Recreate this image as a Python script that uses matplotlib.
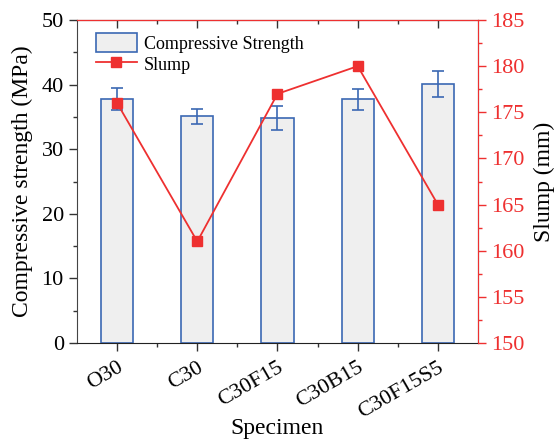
import matplotlib
matplotlib.use("Agg")
import matplotlib.pyplot as plt
from matplotlib.ticker import MultipleLocator
import numpy as np

specimens = ["O30", "C30", "C30F15", "C30B15", "C30F15S5"]
strength = [37.7, 35.1, 34.8, 37.7, 40.1]
strength_err = [1.7, 1.2, 1.85, 1.65, 1.95]
slump = [176, 161, 177, 180, 165]

plt.rcParams['font.family'] = ['Liberation Serif', 'DejaVu Serif']
plt.rcParams['mathtext.fontset'] = 'stix'

blue = '#3b68b3'
red = '#ee3030'

fig = plt.figure(figsize=(5.54, 4.41), dpi=100)
ax = fig.add_axes([0.139, 0.2222, 0.7238, 0.7324])
x = np.arange(len(specimens))
bars = ax.bar(x, strength, width=0.4, color='#efefef', edgecolor=blue, linewidth=1.2,
              yerr=strength_err, error_kw=dict(ecolor=blue, elinewidth=1.2, capsize=4, capthick=1.2),
              label='Compressive Strength', zorder=2)
ax.set_xlim(-0.5, 4.5)
ax.set_ylim(0, 50)
ax.set_xticks(x)
ax.set_xticklabels(specimens, rotation=30, fontsize=16, ha='right', va='top',
                   rotation_mode='anchor')
ax.set_xticks(x[:-1] + 0.5, minor=True)
ax.yaxis.set_major_locator(MultipleLocator(10))
ax.yaxis.set_minor_locator(MultipleLocator(5))
ax.tick_params(axis='y', labelsize=16, direction='out', length=6, width=1, color='#333333')
ax.tick_params(axis='y', which='minor', direction='out', length=3, width=1, color='#333333')
ax.tick_params(axis='x', which='both', direction='out', width=1, color='#333333')
ax.tick_params(axis='x', which='major', length=6, pad=5)
ax.tick_params(axis='x', which='minor', length=3)
ax.set_xlabel('Specimen', fontsize=17, labelpad=-3)
ax.set_ylabel('Compressive strength (MPa)', fontsize=17, labelpad=6)
ax.spines['left'].set_color('#444444')
ax.spines['bottom'].set_color('#222222')

top = ax.secondary_xaxis('top')
top.set_xticks(x)
top.set_xticks(x[:-1] + 0.5, minor=True)
top.tick_params(axis='x', which='both', direction='in', labeltop=False, width=1, color='#333333')
top.tick_params(axis='x', which='major', length=6)
top.tick_params(axis='x', which='minor', length=3)
top.spines['top'].set_color(red)

ax2 = ax.twinx()
line, = ax2.plot(x, slump, color=red, marker='s', markersize=7, linewidth=1.3, label='Slump', zorder=3)
ax2.set_ylim(150, 185)
ax2.yaxis.set_major_locator(MultipleLocator(5))
ax2.yaxis.set_minor_locator(MultipleLocator(2.5))
ax2.tick_params(axis='y', which='major', colors=red, labelsize=16, direction='out', length=6, width=1)
ax2.tick_params(axis='y', which='minor', colors=red, direction='out', length=3, width=1)
ax2.set_ylabel('Slump (mm)', fontsize=17, color='black', labelpad=7)
ax2.spines['right'].set_color(red)
ax2.spines['top'].set_color(red)
ax2.spines['left'].set_visible(False)
ax2.spines['bottom'].set_visible(False)

handles = [bars, line]
leg = ax.legend(handles, ['Compressive Strength', 'Slump'], loc='upper left', frameon=False,
                fontsize=13, handlelength=2.3, handleheight=1.3, handletextpad=0.35,
                labelspacing=0.1, borderaxespad=0.3, bbox_to_anchor=(0.015, 1.0))
fig.savefig('out.png', dpi=100)
